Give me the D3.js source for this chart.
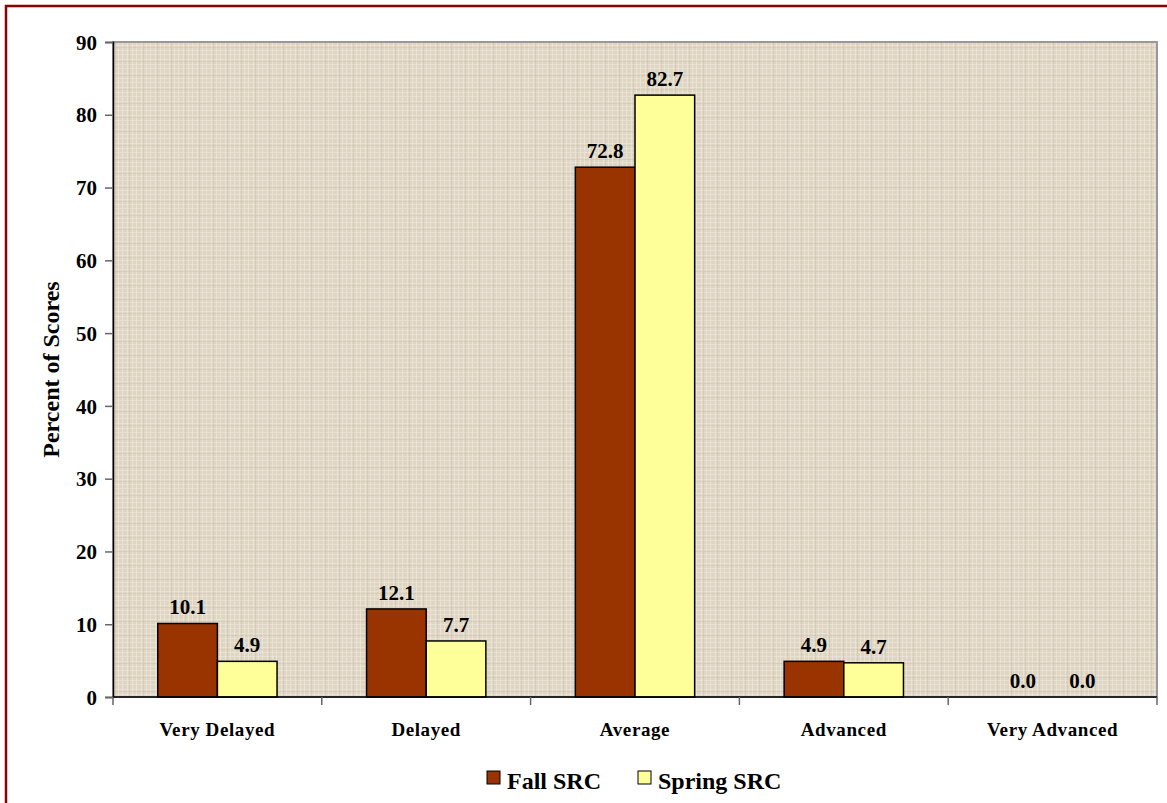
<!DOCTYPE html>
<html>
<head>
<meta charset="utf-8">
<script src="https://cdn.jsdelivr.net/npm/d3@7"></script>
<style>
  body { margin: 0; background: #fff; }
  svg text { font-family: "Liberation Serif", "Times New Roman", serif !important; font-weight: bold; }
</style>
</head>
<body>
<div id="viz"></div>
<script>
const width = 1167;
const height = 803;
const margin = {top: 42, right: 10, bottom: 106, left: 113};

// Data
const categories = ['Very Delayed', 'Delayed', 'Average', 'Advanced', 'Very Advanced'];
const seriesNames = ['Fall SRC', 'Spring SRC'];
const fallValues = [10.1, 12.1, 72.8, 4.9, 0.0];
const springValues = [4.9, 7.7, 82.7, 4.7, 0.0];
const yTicks = [0, 10, 20, 30, 40, 50, 60, 70, 80, 90];

const colorFall = '#993300';
const colorSpring = '#FFFF99';

const rows = categories.map((c, i) => ({category: c, values: [fallValues[i], springValues[i]]}));

const svg = d3.select('#viz')
  .append('svg')
    .attr('width', width)
    .attr('height', height);

// Texture pattern for the plot background
const defs = svg.append('defs');
const pattern = defs.append('pattern')
    .attr('id', 'canvas')
    .attr('width', 14)
    .attr('height', 14)
    .attr('patternUnits', 'userSpaceOnUse');
pattern.append('rect').attr('width', 14).attr('height', 14).attr('fill', '#DED5C3');
[1, 6, 10].forEach(v => {
  pattern.append('rect').attr('x', v).attr('y', 0).attr('width', 1).attr('height', 14)
    .attr('fill', '#ECE6DA').attr('opacity', 0.8);
  pattern.append('rect').attr('x', 0).attr('y', v + 2).attr('width', 14).attr('height', 1)
    .attr('fill', '#ECE6DA').attr('opacity', 0.7);
});
pattern.append('rect').attr('x', 3).attr('y', 0).attr('width', 1).attr('height', 14)
  .attr('fill', '#CFC5B1').attr('opacity', 0.6);
pattern.append('rect').attr('x', 0).attr('y', 5).attr('width', 14).attr('height', 1)
  .attr('fill', '#CFC5B1').attr('opacity', 0.5);

// Outer dark red frame
svg.append('rect')
    .attr('x', 6)
    .attr('y', 6)
    .attr('width', 1300)
    .attr('height', 1000)
    .attr('fill', 'none')
    .attr('stroke', '#8B0000')
    .attr('stroke-width', 2.5);

// Scales
const x0 = d3.scaleBand()
  .domain(categories)
  .range([margin.left, 1157])
  .paddingInner(0)
  .paddingOuter(0);

const x1 = d3.scaleBand()
  .domain(seriesNames)
  .range([0, x0.bandwidth()])
  .paddingInner(0)
  .paddingOuter(0.75);

const yScale = d3.scaleLinear()
  .domain([0, 90])
  .range([697, margin.top]);

// Plot area
svg.append('rect')
    .attr('x', x0.range()[0])
    .attr('y', yScale(90))
    .attr('width', x0.range()[1] - x0.range()[0])
    .attr('height', yScale(0) - yScale(90))
    .attr('fill', 'url(#canvas)')
    .attr('stroke', '#999')
    .attr('stroke-width', 2);

// Bars
const groups = svg.append('g')
    .attr('class', 'bars')
  .selectAll('g')
  .data(rows)
  .join('g')
    .attr('transform', d => `translate(${x0(d.category)},0)`);

groups.selectAll('rect')
  .data(d => d.values.map((v, i) => ({series: seriesNames[i], value: v})))
  .join('rect')
    .attr('x', d => x1(d.series))
    .attr('y', d => yScale(d.value))
    .attr('width', x1.bandwidth())
    .attr('height', d => yScale(0) - yScale(d.value))
    .attr('fill', d => d.series === 'Fall SRC' ? colorFall : colorSpring)
    .attr('stroke', d => d.value > 0 ? '#000' : 'none')
    .attr('stroke-width', 1.5);

groups.selectAll('.value-label')
  .data(d => d.values.map((v, i) => ({series: seriesNames[i], value: v})))
  .join('text')
    .attr('class', 'value-label')
    .attr('x', d => x1(d.series) + x1.bandwidth() / 2)
    .attr('y', d => yScale(d.value) - 9)
    .attr('text-anchor', 'middle')
    .style('font-size', '21px')
    .text(d => d.value.toFixed(1));

// Y axis
const yAxis = d3.axisLeft(yScale)
  .tickValues(yTicks)
  .tickSize(8)
  .tickPadding(8);
const yAxisGroup = svg.append('g')
    .attr('transform', `translate(${margin.left},0)`)
    .call(yAxis);
yAxisGroup.select('.domain').attr('stroke', '#000').attr('stroke-width', 1.5);
yAxisGroup.selectAll('.tick line').attr('stroke', '#666').attr('stroke-width', 1.5);
yAxisGroup.selectAll('.tick text')
    .attr('fill', '#000')
    .attr('dy', '0.34em')
    .style('font-size', '21px');

// X axis line and boundary ticks
const xAxisGroup = svg.append('g').attr('class', 'x-axis');
xAxisGroup.append('line')
    .attr('x1', margin.left)
    .attr('x2', 1157)
    .attr('y1', yScale(0))
    .attr('y2', yScale(0))
    .attr('stroke', '#000')
    .attr('stroke-width', 1.5);
const boundaries = categories.map(c => x0(c)).concat([x0.range()[1]]);
xAxisGroup.selectAll('.xtick')
  .data(boundaries)
  .join('line')
    .attr('x1', d => d)
    .attr('x2', d => d)
    .attr('y1', yScale(0))
    .attr('y2', yScale(0) + 8)
    .attr('stroke', '#666')
    .attr('stroke-width', 1.5);
xAxisGroup.selectAll('.cat-label')
  .data(categories)
  .join('text')
    .attr('x', d => x0(d) + x0.bandwidth() / 2)
    .attr('y', 736)
    .attr('text-anchor', 'middle')
    .style('font-size', '19px')
    .style('letter-spacing', '0.6px')
    .text(d => d);

// Y axis title
svg.append('text')
    .attr('transform', `translate(59, ${(yScale(0) + yScale(90)) / 2}) rotate(-90)`)
    .attr('text-anchor', 'middle')
    .style('font-size', '24px')
    .text('Percent of Scores');

// Legend
const legend = svg.append('g').attr('class', 'legend');
const legendX = [487, 638];
seriesNames.forEach((name, i) => {
  legend.append('rect')
      .attr('x', legendX[i])
      .attr('y', 771)
      .attr('width', 13)
      .attr('height', 13)
      .attr('fill', i === 0 ? colorFall : colorSpring)
      .attr('stroke', '#000')
      .attr('stroke-width', 1);
  legend.append('text')
      .attr('x', legendX[i] + 20)
      .attr('y', 789)
      .style('font-size', '24px')
      .text(name);
});
</script>
</body>
</html>
